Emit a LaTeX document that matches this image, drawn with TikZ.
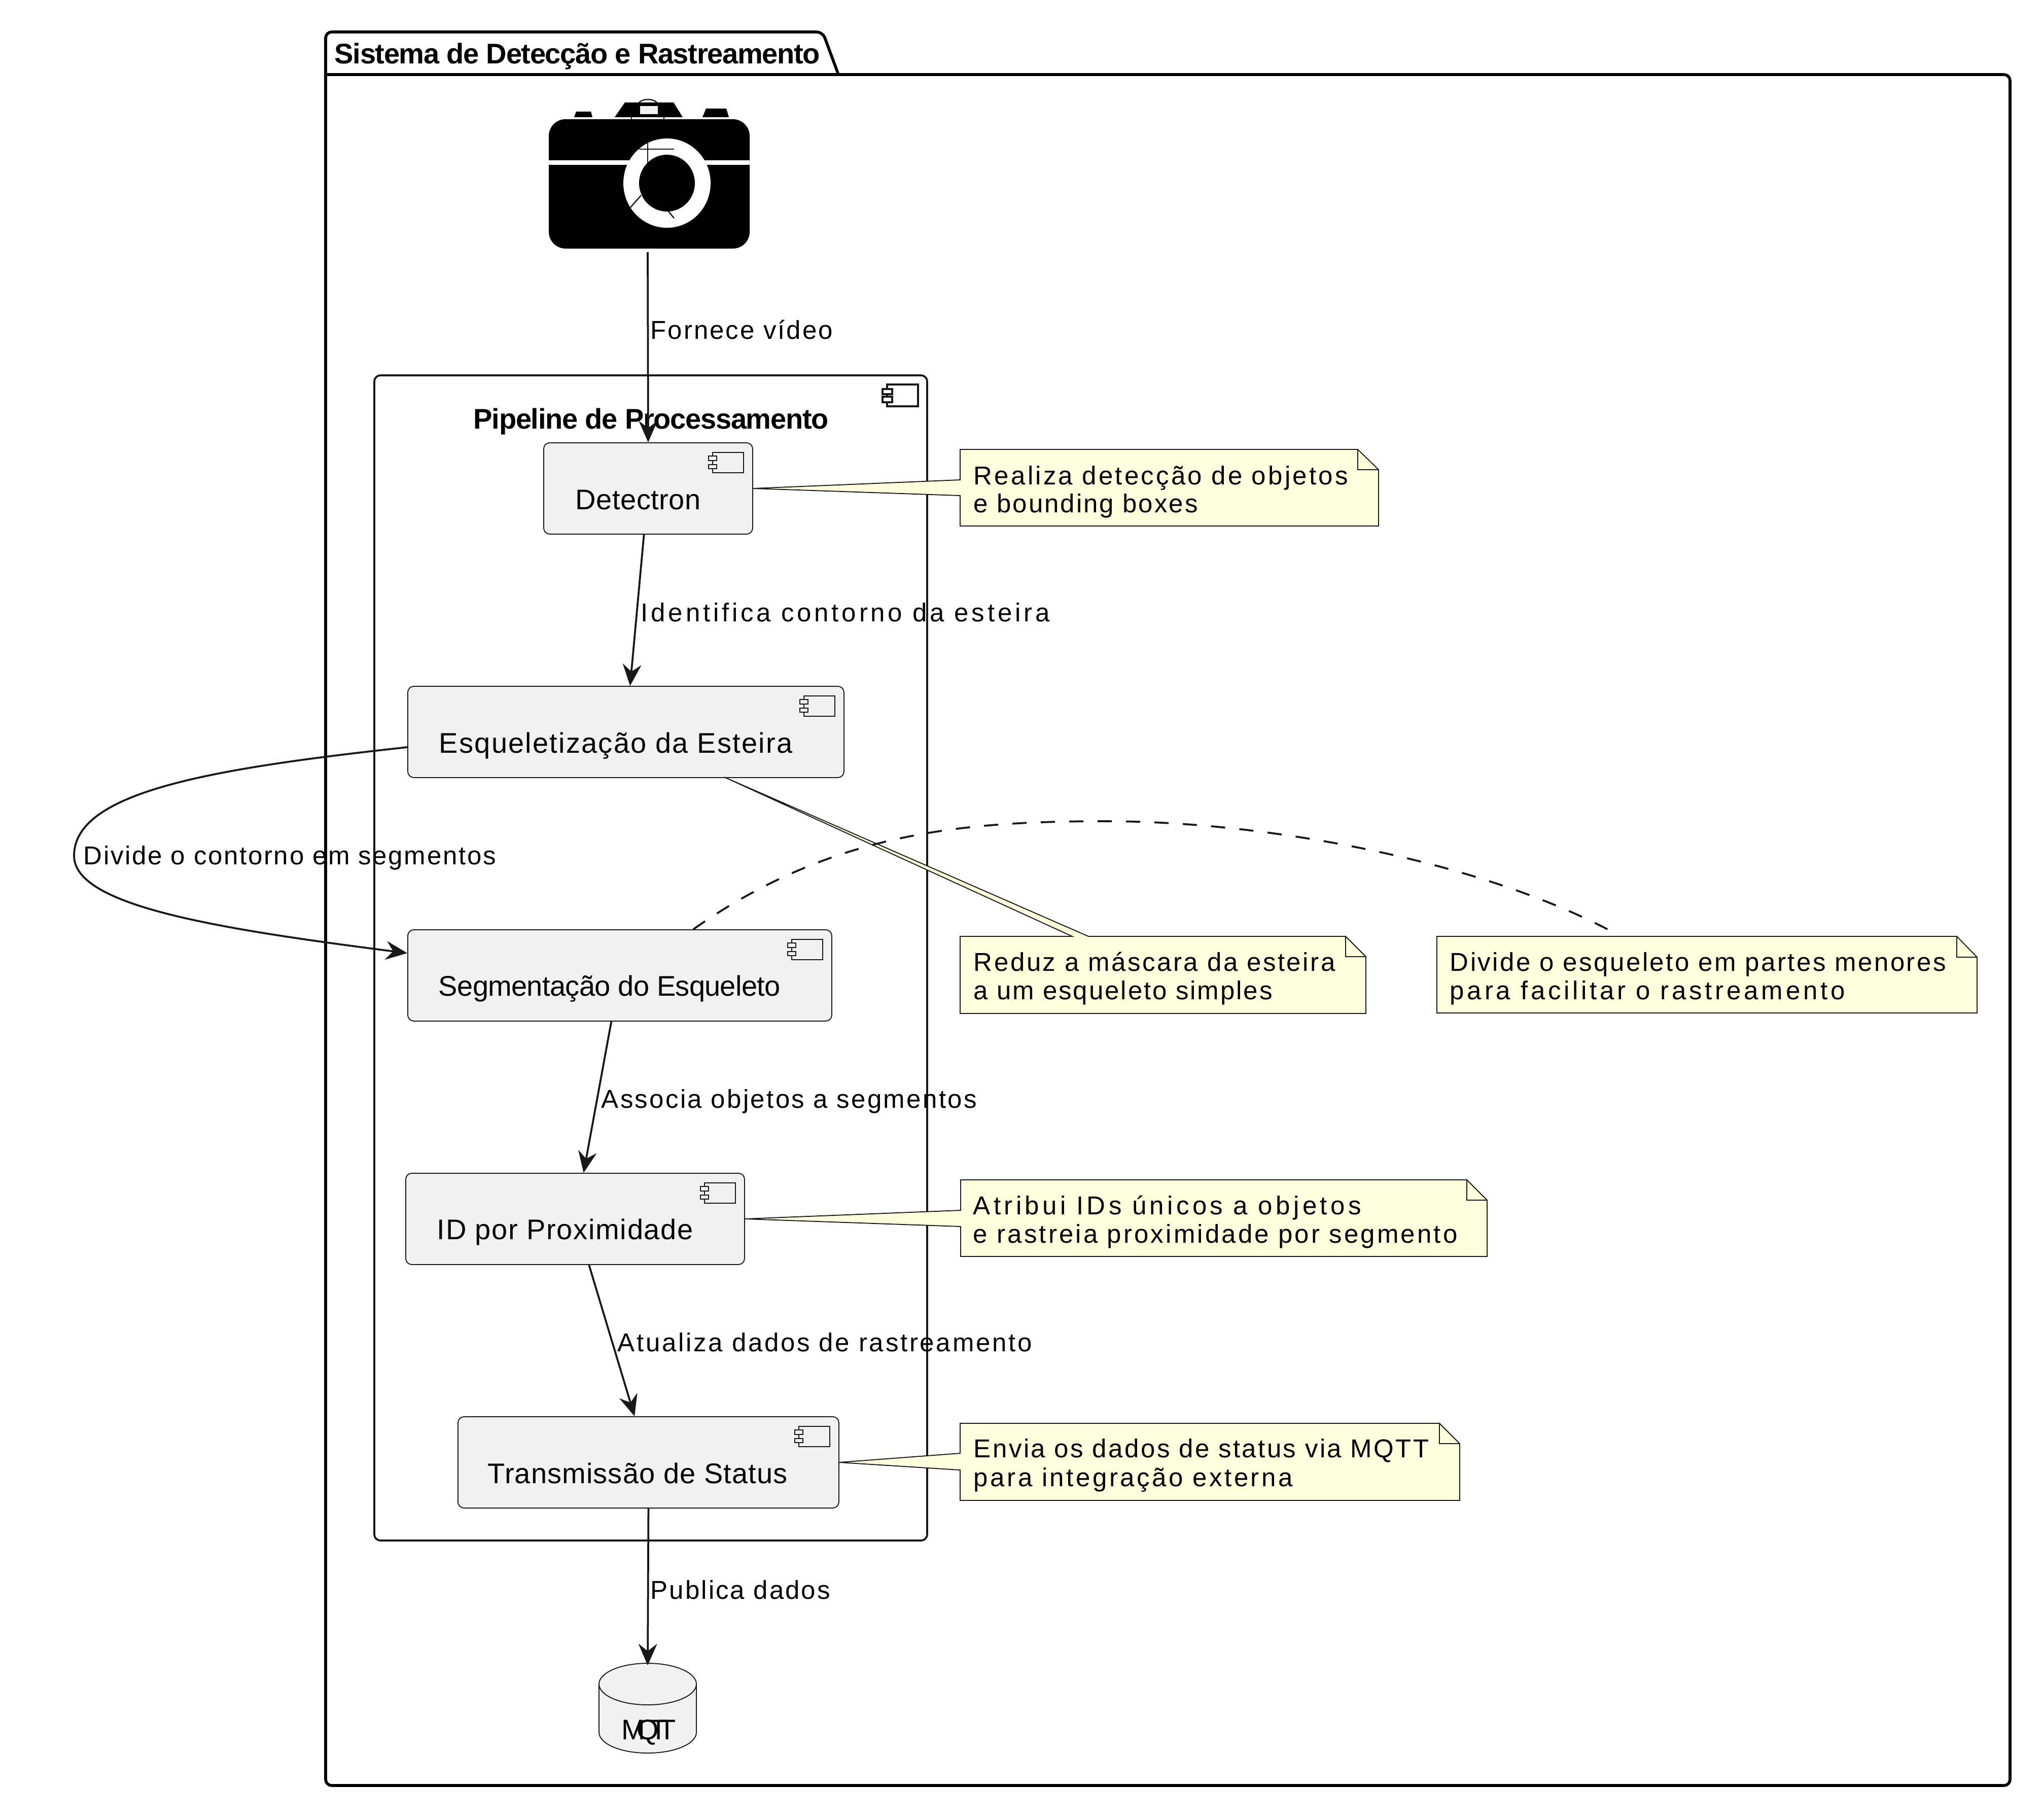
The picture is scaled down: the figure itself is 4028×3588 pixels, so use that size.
\documentclass[tikz,border=0pt]{standalone}
\usepackage{fontspec}
\usepackage{xstring}
\setmainfont{Liberation Sans}
\usetikzlibrary{arrows.meta}
\definecolor{ln}{HTML}{181818}
\definecolor{boxfill}{HTML}{F1F1F1}
\definecolor{notefill}{HTML}{FEFFDD}
% size (pt), visible width (px), text: letter spacing is fitted to the width
\newcommand\fit[3]{\fontsize{#1}{#1}\selectfont
  \setbox0=\hbox{#3}\StrLen{#3}[\fitn]\StrCount{#3}{ }[\fitsp]%
  \edef\fitls{\fpeval{round(100*((#2*0.25*65536-\number\wd0)/(\fitn-\fitsp-1))/(#1*65536),3)}}%
  \addfontfeature{LetterSpace=\fitls}#3}
\newcommand\edgetxt[2]{\fit{12.75}{#1}{#2}}
\newcommand\comptxt[2]{\fit{14}{#1}{#2}}
\newcommand\boldtxt[2]{\bfseries\fit{14}{#1}{#2}}
\newcommand\compicon[1]{\begin{scope}[shift={(#1.north east)}]
  \draw[thinln] (-80,20) rectangle (-19,60);
  \draw[thinln,fill=boxfill] (-88,27) rectangle (-72,36);
  \draw[thinln,fill=boxfill] (-88,44) rectangle (-72,52);
\end{scope}}
\tikzset{
  thinln/.style={draw=ln,line width=0.47pt},
  compbox/.style 2 args={draw=ln,line width=0.47pt,fill=boxfill,rounded corners=3pt,inner sep=0pt,anchor=north west,
    minimum width=#1*0.25pt,minimum height=#2*0.25pt},
  lbl/.style={inner sep=0pt,anchor=base west,text=black},
  edge/.style={draw=ln,line width=0.94pt,-{Stealth[length=10.6pt,width=9.2pt,inset=3.6pt]}},
  notesh/.style={draw=ln,line width=0.47pt,fill=notefill,line join=miter},
  pkgln/.style={draw=black,line width=1.42pt},
  pipeln/.style={draw=ln,line width=0.94pt,rounded corners=3pt},
  camln/.style={draw=ln,line width=0.6pt},
}
\begin{document}
\begin{tikzpicture}[x=0.25pt,y=-0.25pt]
\useasboundingbox (0,0) rectangle (4028,3588);
\fill[white] (0,0) rectangle (4028,3588);
% package
\draw[pkgln,rounded corners=3pt] (642,147) -- (3963,147) -- (3963,3520) -- (642,3520) -- (642,147);
\draw[pkgln,rounded corners=3pt] (642,147) -- (642,63) -- (1622,63) -- (1653,147);
\node[lbl] (pkgtitle) at (659,125) {\boldtxt{957}{Sistema de Detecção e Rastreamento}};
% camera
\fill[black,rounded corners=8.25pt] (1082,235) rectangle (1478,490);
\fill[white] (1082,316) rectangle (1478,325);
\fill[white] (1315,361) ellipse [x radius=86,y radius=88];
\fill[black] (1315,361) ellipse [x radius=55,y radius=56];
\fill[black] (1132,231) -- (1136,220) -- (1165,220) -- (1168,231) -- cycle;
\fill[black] (1212,231) -- (1232,202) -- (1328,202) -- (1346,231) -- cycle;
\fill[black] (1385,231) -- (1392,214) -- (1432,214) -- (1437,231) -- cycle;
\fill[boxfill] (1262,209) rectangle (1297,225);
\fill[boxfill] (1245,231) rectangle (1309,235);
\draw[camln] (1245,231) -- (1245,235);
\draw[camln] (1309,231) -- (1309,235);
\draw[camln] (1260,202) .. controls (1268,194) and (1287,194) .. (1295,202);
\draw[camln] (1277,282) -- (1277,322);
\draw[camln] (1260,294) -- (1329,294);
\draw[camln] (1264,385) -- (1243,409);
\draw[camln] (1318,417) -- (1329,430);
\coordinate (cam) at (1277,497);
% pipeline
\draw[pipeln] (738,740) rectangle (1828,3037);
\begin{scope}[shift={(1810,758)}]
  \draw[draw=ln,line width=0.94pt] (-61,0) rectangle (0,43);
  \draw[draw=ln,line width=0.94pt,fill=white] (-70,9) rectangle (-51,19);
  \draw[draw=ln,line width=0.94pt,fill=white] (-70,24) rectangle (-51,35);
\end{scope}
\node[lbl] (pipetitle) at (933,845) {\boldtxt{700}{Pipeline de Processamento}};
% components
\node[compbox={412}{180}] (det) at (1071,872) {};
\node[compbox={860}{180}] (esq) at (803,1352) {};
\node[compbox={836}{180}] (seg) at (803,1832) {};
\node[compbox={668}{180}] (idp) at (799,2312) {};
\node[compbox={751}{180}] (trn) at (902,2792) {};
\compicon{det}\compicon{esq}\compicon{seg}\compicon{idp}\compicon{trn}
\node[lbl] (dettxt) at (1134,1004) {\comptxt{247}{Detectron}};
\node[lbl] (esqtxt) at (865,1484) {\comptxt{697}{Esqueletização da Esteira}};
\node[lbl] (segtxt) at (864,1963) {\comptxt{674}{Segmentação do Esqueleto}};
\node[lbl] (idptxt) at (861,2443) {\comptxt{505}{ID por Proximidade}};
\node[lbl] (trntxt) at (961,2924) {\comptxt{591}{Transmissão de Status}};
% MQTT
\coordinate (mq) at (1277,3283);
\draw[thinln,fill=boxfill] (1181,3320) -- (1181,3415) .. controls (1181,3438) and (1224,3456) .. (1277,3456)
   .. controls (1330,3456) and (1373,3438) .. (1373,3415) -- (1373,3320);
\draw[thinln,fill=boxfill] (1277,3320) ellipse [x radius=96,y radius=41];
\node[lbl] (mqtxt) at (1225,3429) {\comptxt{107}{MQTT}};
% notes with their wedges
\coordinate (t2) at (1428,1532);
\draw[notesh] (1893,886) -- (2677,886) -- (2718,926) -- (2718,1037) -- (1893,1037) -- (1893,977) -- (det.east) -- (1893,946) -- cycle;
\draw[thinln] (2677,886) -- (2677,926) -- (2718,926);
\draw[notesh] (1893,1846) -- (2114,1846) -- (t2) -- (2146,1846) -- (2653,1846) -- (2693,1886) -- (2693,1998) -- (1893,1998) -- cycle;
\draw[thinln] (2653,1846) -- (2653,1886) -- (2693,1886);
\draw[notesh] (2833,1846) -- (3858,1846) -- (3898,1887) -- (3898,1997) -- (2833,1997) -- cycle;
\draw[thinln] (3858,1846) -- (3858,1887) -- (3898,1887);
\draw[notesh] (1894,2326) -- (2892,2326) -- (2932,2366) -- (2932,2477) -- (1894,2477) -- (1894,2418) -- (idp.east) -- (1894,2386) -- cycle;
\draw[thinln] (2892,2326) -- (2892,2366) -- (2932,2366);
\draw[notesh] (1893,2806) -- (2838,2806) -- (2878,2846) -- (2878,2958) -- (1893,2958) -- (1893,2898) -- (trn.east) -- (1893,2865) -- cycle;
\draw[thinln] (2838,2806) -- (2838,2846) -- (2878,2846);
\node[lbl] (n1a) at (1919,955) {\edgetxt{738}{Realiza detecção de objetos}};
\node[lbl] (n1b) at (1919,1010) {\edgetxt{442}{e bounding boxes}};
\node[lbl] (n2a) at (1919,1914) {\edgetxt{713}{Reduz a máscara da esteira}};
\node[lbl] (n2b) at (1919,1970) {\edgetxt{589}{a um esqueleto simples}};
\node[lbl] (n3a) at (2858,1914) {\edgetxt{978}{Divide o esqueleto em partes menores}};
\node[lbl] (n3b) at (2858,1970) {\edgetxt{779}{para facilitar o rastreamento}};
\node[lbl] (n4a) at (1918,2394) {\edgetxt{765}{Atribui IDs únicos a objetos}};
\node[lbl] (n4b) at (1918,2450) {\edgetxt{955}{e rastreia proximidade por segmento}};
\node[lbl] (n5a) at (1919,2873) {\edgetxt{898}{Envia os dados de status via MQTT}};
\node[lbl] (n5b) at (1919,2930) {\edgetxt{629}{para integração externa}};
% dashed note link
\draw[draw=ln,line width=0.94pt,dash pattern=on 7pt off 7pt] (seg.north -| 1367,0) .. controls (1640,1640) and (1900,1619) .. (2180,1619)
   .. controls (2480,1619) and (2900,1690) .. (3177,1836);
% edges
\draw[edge] (cam) -- (det.north);
\draw[edge] (det) -- (esq);
\draw[edge] (803,1473) .. controls (420,1515) and (146,1560) .. (146,1687)
   .. controls (146,1785) and (420,1830) .. (seg.west |- 0,1879);
\draw[edge] (seg) -- (idp);
\draw[edge] (idp) -- (trn);
\draw[edge] (trn.south) -- (mq);
\node[lbl] (l1) at (1282,668) {\edgetxt{359}{Fornece vídeo}};
\node[lbl] (l2) at (1263,1225) {\edgetxt{806}{Identifica contorno da esteira}};
\node[lbl] (l3) at (164,1704) {\edgetxt{813}{Divide o contorno em segmentos}};
\node[lbl] (l4) at (1185,2184) {\edgetxt{740}{Associa objetos a segmentos}};
\node[lbl] (l5) at (1217,2664) {\edgetxt{817}{Atualiza dados de rastreamento}};
\node[lbl] (l6) at (1282,3152) {\edgetxt{354}{Publica dados}};
\end{tikzpicture}
\end{document}
